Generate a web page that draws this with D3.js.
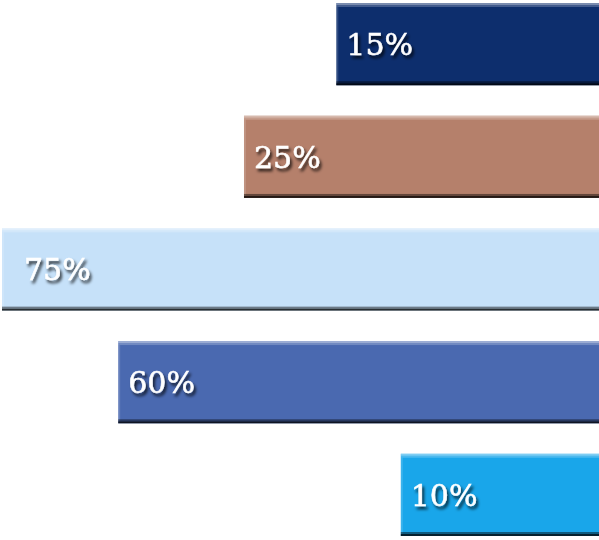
<!DOCTYPE html>
<html>
<head>
<meta charset="utf-8">
<script src="https://cdn.jsdelivr.net/npm/d3@7"></script>
<style>
  body { margin: 0; background: #fff; }
  svg { display: block; }
</style>
</head>
<body>
<div id="chart"></div>
<script>
// Data
const categories = ["a", "b", "c", "d", "e"];
const values = [33, 44.6, 75, 60.4, 24.9];
const labels = ["15%", "25%", "75%", "60%", "10%"];
const colors = ["#0d2e6d", "#b5806b", "#c6e1f9", "#4a69b0", "#19a6ea"];

// Dimensions
const width = 599, height = 540;
const margins = { top: 3, bottom: 4, left: 2, right: 0 };

const svg = d3
  .select("#chart")
  .append("svg")
  .attr("width", width)
  .attr("height", height);

const x = d3
  .scaleLinear()
  .domain([0, d3.max(values)])
  .range([0, width - margins.left - margins.right]);

const y = d3
  .scaleBand()
  .domain(categories)
  .range([margins.top, height - margins.bottom])
  .paddingInner(0.27)
  .paddingOuter(0);

// text shadow
const defs = svg.append("defs");
defs
  .append("filter")
  .attr("id", "shadow")
  .attr("x", "-20%")
  .attr("y", "-30%")
  .attr("width", "150%")
  .attr("height", "170%")
  .append("feDropShadow")
  .attr("dx", 2)
  .attr("dy", 3)
  .attr("stdDeviation", 1.6)
  .attr("flood-color", "#000")
  .attr("flood-opacity", 0.75);

const barX = (d, i) => width - margins.right - x(values[i]);

const g = svg
  .selectAll("g.bar")
  .data(categories)
  .join("g")
  .attr("class", "bar");

// main bar
g.append("rect")
  .attr("x", barX)
  .attr("y", (d) => y(d))
  .attr("width", (d, i) => x(values[i]))
  .attr("height", y.bandwidth())
  .attr("fill", (d, i) => colors[i]);

// bevel: top highlight
g.append("rect")
  .attr("x", barX)
  .attr("y", (d) => y(d))
  .attr("width", (d, i) => x(values[i]))
  .attr("height", 2)
  .attr("fill", "#fff")
  .attr("opacity", 0.45);
g.append("rect")
  .attr("x", barX)
  .attr("y", (d) => y(d) + 2)
  .attr("width", (d, i) => x(values[i]))
  .attr("height", 2)
  .attr("fill", "#fff")
  .attr("opacity", 0.22);

// bevel: left highlight
g.append("rect")
  .attr("x", barX)
  .attr("y", (d) => y(d) + 4)
  .attr("width", 2)
  .attr("height", y.bandwidth() - 6)
  .attr("fill", "#fff")
  .attr("opacity", 0.15);

// bevel: bottom dark edge
g.append("rect")
  .attr("x", barX)
  .attr("y", (d) => y(d) + y.bandwidth() - 4)
  .attr("width", (d, i) => x(values[i]))
  .attr("height", 2)
  .attr("fill", "#000")
  .attr("opacity", 0.45);
g.append("rect")
  .attr("x", barX)
  .attr("y", (d) => y(d) + y.bandwidth() - 2)
  .attr("width", (d, i) => x(values[i]))
  .attr("height", 2)
  .attr("fill", "#000")
  .attr("opacity", 0.8);

// labels
g.append("text")
  .attr("x", (d, i) => barX(d, i) + (i === 2 ? 22 : 10))
  .attr("y", (d) => y(d) + y.bandwidth() / 2)
  .attr("dy", "0.36em")
  .attr("font-family", "'DejaVu Serif', serif")
  .attr("font-size", 30)
  .attr("fill", "#fff")
  .attr("stroke", "#fff")
  .attr("stroke-width", 0.5)
  .attr("filter", "url(#shadow)")
  .text((d, i) => labels[i]);
</script>
</body>
</html>
